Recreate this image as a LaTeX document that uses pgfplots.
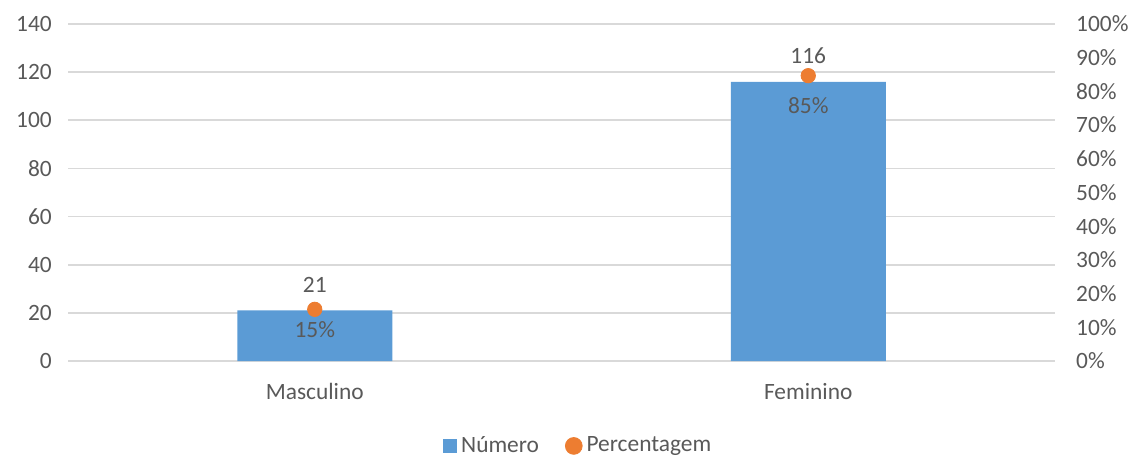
\documentclass[border=0pt]{standalone}
\usepackage{pgfplots}
\pgfplotsset{compat=1.18}
\usepackage{fontspec}
\setmainfont{Carlito}
\definecolor{barblue}{HTML}{5B9BD5}
\definecolor{dotorange}{HTML}{ED7D31}
\definecolor{txtgray}{HTML}{595959}
\definecolor{gridgray}{HTML}{D9D9D9}
\begin{document}
\fontsize{11.7}{14}\selectfont
\begin{tikzpicture}
\useasboundingbox (0,0) rectangle (570pt,228.5pt);
\begin{axis}[
  at={(34pt,48pt)}, anchor=south west,
  scale only axis, width=493.5pt, height=168.5pt,
  xmin=-0.5, xmax=1.5, ymin=0, ymax=140,
  xtick={0,1}, xticklabels={Masculino,Feminino},
  ytick={0,20,...,140},
  axis y line*=left, axis x line*=bottom,
  axis line style={draw=none},
  x axis line style={draw=gridgray},
  tick style={draw=none},
  ymajorgrids, grid style={gridgray, line width=0.8pt},
  xticklabel style={text=txtgray, yshift=-7pt},
  yticklabel style={text=txtgray, xshift=-4pt},
  /pgf/number format/assume math mode=true,
  font=\fontsize{11.7}{14}\selectfont,
  clip=false,
]
\addplot[ybar, bar width=77.5pt, fill=barblue, draw=none,
  nodes near coords, nodes near coords style={text=txtgray, anchor=center, yshift=13pt, font=\fontsize{11.7}{14}\selectfont}]
  coordinates {(0,21) (1,116)};
\end{axis}
\begin{axis}[
  at={(34pt,48pt)}, anchor=south west,
  scale only axis, width=493.5pt, height=168.5pt,
  xmin=-0.5, xmax=1.5, ymin=0, ymax=100,
  axis y line*=right, axis x line=none,
  axis line style={draw=none},
  tick style={draw=none},
  ytick={0,10,...,100},
  yticklabel={\pgfmathprintnumber{\tick}\%},
  yticklabel style={text=txtgray, xshift=6.5pt},
  /pgf/number format/assume math mode=true,
  font=\fontsize{11.7}{14}\selectfont,
  clip=false,
  legend style={at={(0.518,-0.252)}, anchor=center, draw=none, legend columns=2,
    text=txtgray, /tikz/every even column/.append style={column sep=11pt},
    /tikz/every odd column/.append style={column sep=0pt}},
]
\addlegendimage{legend image code/.code={\fill[barblue] (0pt,-3.3pt) rectangle (6.5pt,3.3pt);}}
\addlegendentry{Número}
\addplot[only marks, mark=*, mark size=3.6pt, color=dotorange,
  legend image code/.code={\fill[dotorange] (4.2pt,0pt) circle (4.2pt);}]
  coordinates {(0,15.33) (1,84.67)};
\addlegendentry{Percentagem}
\addplot[only marks, mark=none, draw=none,
  point meta=explicit symbolic,
  nodes near coords, nodes near coords style={text=txtgray, anchor=center, yshift=-10pt, font=\fontsize{11.7}{14}\selectfont},
  forget plot]
  coordinates {(0,15.33) [15\%]};
\addplot[only marks, mark=none, draw=none,
  point meta=explicit symbolic,
  nodes near coords, nodes near coords style={text=txtgray, anchor=center, yshift=-15pt, font=\fontsize{11.7}{14}\selectfont},
  forget plot]
  coordinates {(1,84.67) [85\%]};
\end{axis}
\end{tikzpicture}
\end{document}
